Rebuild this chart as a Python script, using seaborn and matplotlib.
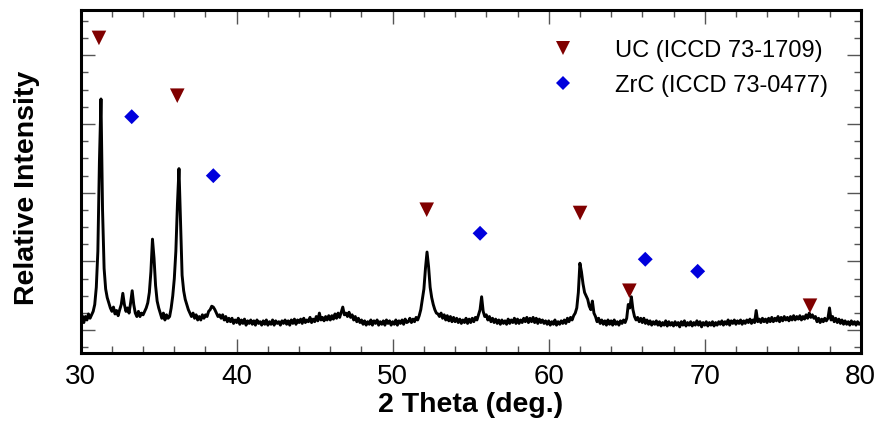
import numpy as np
import pandas as pd
import matplotlib
matplotlib.use("Agg")
import matplotlib.pyplot as plt
from matplotlib.lines import Line2D
from matplotlib.ticker import MultipleLocator
import seaborn as sns

# ---- data (intensity on a 0.1 deg grid, 30.0 ... 80.0) ----
scan_start, scan_stop = 30.0, 80.0
intensity = [
    0.55, 0.85, 0.45, 0.80, 0.60, 0.95, 0.70, 0.90, 1.10, 1.50,   # 30
    2.50, 4.60, 9.80, 13.45, 7.00, 3.60, 2.40, 1.90, 1.60, 1.30,  # 31
    1.10, 1.35, 0.95, 1.15, 0.85, 1.20, 1.50, 2.15, 1.50, 1.10,   # 32
    1.30, 1.00, 1.60, 2.30, 1.50, 1.00, 0.80, 1.10, 0.80, 1.00,   # 33
    0.90, 1.10, 1.30, 1.60, 2.20, 3.40, 5.30, 4.20, 2.60, 1.70,   # 34
    1.30, 1.00, 0.70, 1.00, 0.60, 0.90, 0.70, 0.80, 1.30, 2.00,   # 35
    3.00, 4.60, 7.30, 9.40, 6.20, 3.20, 2.30, 1.80, 1.50, 1.20,   # 36
    1.00, 0.80, 1.00, 0.70, 0.90, 0.60, 0.80, 0.60, 0.90, 0.70,   # 37
    0.90, 0.80, 1.10, 1.20, 1.40, 1.35, 1.20, 1.00, 0.80, 0.90,   # 38
    0.70, 0.90, 0.60, 0.80, 0.50, 0.70, 0.50, 0.70, 0.40, 0.60,   # 39
    0.45, 0.70, 0.35, 0.60, 0.40, 0.65, 0.30, 0.55, 0.40, 0.60,   # 40
    0.35, 0.55, 0.30, 0.60, 0.40, 0.50, 0.30, 0.55, 0.35, 0.60,   # 41
    0.30, 0.50, 0.35, 0.60, 0.30, 0.55, 0.40, 0.50, 0.30, 0.55,   # 42
    0.40, 0.60, 0.35, 0.55, 0.30, 0.60, 0.40, 0.65, 0.35, 0.60,   # 43
    0.45, 0.65, 0.40, 0.70, 0.45, 0.60, 0.50, 0.75, 0.45, 0.65,   # 44
    0.50, 0.80, 0.55, 1.00, 0.60, 0.75, 0.55, 0.80, 0.60, 0.85,   # 45
    0.60, 0.85, 0.65, 0.95, 0.70, 1.00, 0.75, 1.05, 1.35, 0.90,   # 46
    1.00, 0.80, 1.05, 0.75, 0.90, 0.60, 0.80, 0.50, 0.70, 0.45,   # 47
    0.60, 0.35, 0.55, 0.30, 0.50, 0.35, 0.60, 0.30, 0.55, 0.40,   # 48
    0.60, 0.30, 0.50, 0.35, 0.55, 0.30, 0.60, 0.40, 0.55, 0.30,   # 49
    0.50, 0.35, 0.60, 0.30, 0.55, 0.40, 0.60, 0.35, 0.65, 0.45,   # 50
    0.50, 0.70, 0.45, 0.65, 0.50, 0.75, 0.60, 0.85, 1.20, 1.80,   # 51
    2.40, 3.60, 4.55, 3.70, 2.50, 1.90, 1.50, 1.20, 1.00, 0.95,   # 52
    0.80, 1.00, 0.70, 0.90, 0.60, 0.85, 0.55, 0.80, 0.50, 0.75,   # 53
    0.50, 0.70, 0.45, 0.65, 0.40, 0.60, 0.45, 0.70, 0.40, 0.65,   # 54
    0.45, 0.70, 0.50, 0.75, 0.60, 0.90, 1.20, 1.95, 1.10, 0.80,   # 55
    0.90, 0.60, 0.80, 0.50, 0.70, 0.45, 0.65, 0.40, 0.60, 0.35,   # 56
    0.60, 0.40, 0.55, 0.35, 0.65, 0.40, 0.60, 0.45, 0.70, 0.40,   # 57
    0.65, 0.40, 0.60, 0.45, 0.70, 0.50, 0.75, 0.45, 0.70, 0.50,   # 58
    0.75, 0.45, 0.70, 0.40, 0.65, 0.45, 0.60, 0.40, 0.55, 0.35,   # 59
    0.55, 0.30, 0.50, 0.35, 0.60, 0.30, 0.50, 0.35, 0.55, 0.40,   # 60
    0.60, 0.40, 0.70, 0.50, 0.75, 0.60, 0.85, 1.00, 1.30, 2.20,   # 61
    3.90, 3.40, 2.70, 2.20, 2.00, 1.80, 1.40, 1.20, 1.70, 1.00,   # 62
    0.80, 0.50, 0.70, 0.40, 0.60, 0.35, 0.55, 0.30, 0.60, 0.35,   # 63
    0.55, 0.30, 0.60, 0.35, 0.50, 0.30, 0.55, 0.40, 0.60, 0.45,   # 64
    0.70, 1.50, 1.30, 1.95, 1.20, 0.80, 0.60, 0.75, 0.50, 0.70,   # 65
    0.45, 0.70, 0.40, 0.60, 0.35, 0.55, 0.30, 0.50, 0.35, 0.55,   # 66
    0.30, 0.50, 0.25, 0.45, 0.30, 0.55, 0.25, 0.50, 0.30, 0.45,   # 67
    0.25, 0.50, 0.30, 0.45, 0.20, 0.50, 0.30, 0.55, 0.25, 0.45,   # 68
    0.30, 0.50, 0.25, 0.45, 0.30, 0.55, 0.30, 0.50, 0.20, 0.45,   # 69
    0.30, 0.50, 0.25, 0.45, 0.30, 0.50, 0.25, 0.45, 0.30, 0.50,   # 70
    0.35, 0.55, 0.30, 0.50, 0.35, 0.60, 0.30, 0.55, 0.40, 0.60,   # 71
    0.35, 0.55, 0.40, 0.60, 0.35, 0.55, 0.40, 0.60, 0.45, 0.65,   # 72
    0.40, 0.60, 0.45, 1.15, 0.50, 0.65, 0.45, 0.70, 0.50, 0.65,   # 73
    0.45, 0.70, 0.50, 0.75, 0.50, 0.70, 0.55, 0.80, 0.50, 0.75,   # 74
    0.55, 0.80, 0.60, 0.75, 0.55, 0.80, 0.60, 0.85, 0.60, 0.80,   # 75
    0.65, 0.85, 0.60, 0.80, 0.65, 0.90, 0.70, 1.00, 0.75, 0.90,   # 76
    0.70, 0.80, 0.50, 0.70, 0.45, 0.65, 0.50, 0.70, 0.55, 0.70,   # 77
    1.30, 0.60, 0.80, 0.50, 0.70, 0.45, 0.65, 0.40, 0.60, 0.35,   # 78
    0.55, 0.35, 0.50, 0.30, 0.55, 0.35, 0.50, 0.30, 0.50, 0.35,   # 79
    0.45,                                                         # 80
]

uc_label = "UC (ICCD 73-1709)"
uc_angle = [31.17, 36.19, 52.18, 62.01, 65.17, 76.75]
uc_height = [17.0, 13.64, 7.01, 6.82, 2.30, 1.43]

zrc_label = "ZrC (ICCD 73-0477)"
zrc_angle = [33.27, 38.50, 55.60, 66.19, 69.55]
zrc_height = [12.42, 8.99, 5.64, 4.13, 3.43]

x_ticks = [30, 40, 50, 60, 70, 80]
x_label = "2 Theta (deg.)"
y_label = "Relative Intensity"

# ---- build frames ----
scan = pd.DataFrame({
    "two_theta": np.linspace(scan_start, scan_stop, len(intensity)),
    "intensity": intensity,
})
uc = pd.DataFrame({"two_theta": uc_angle, "h": uc_height})
zrc = pd.DataFrame({"two_theta": zrc_angle, "h": zrc_height})

sns.set_style("white")
plt.rcParams["font.family"] = ["Liberation Sans", "DejaVu Sans"]
plt.rcParams["text.color"] = "black"
plt.rcParams["axes.labelcolor"] = "black"
plt.rcParams["xtick.color"] = "black"
plt.rcParams["ytick.color"] = "black"

fig = plt.figure(figsize=(8.76, 4.27), dpi=100)
ax = fig.add_axes([80.7 / 876, 1 - 354 / 427, 780 / 876, (354 - 10.7) / 427])

sns.lineplot(data=scan, x="two_theta", y="intensity", ax=ax, color="black",
             lw=2.1, estimator=None, sort=False)

uc_col = "#800000"
zrc_col = "#0000dd"
sns.scatterplot(data=uc, x="two_theta", y="h", ax=ax, marker="v", s=10.5 ** 2,
                color=uc_col, edgecolor="none", linewidth=0, zorder=5)
sns.scatterplot(data=zrc, x="two_theta", y="h", ax=ax, marker="D", s=7.6 ** 2,
                color=zrc_col, edgecolor="none", linewidth=0, zorder=5)

ax.set_xlim(30, 80)
ax.set_ylim(-1.32, 18.64)
ax.set_xticks(x_ticks)
ax.xaxis.set_minor_locator(MultipleLocator(2))
ax.yaxis.set_major_locator(MultipleLocator(4))
ax.yaxis.set_minor_locator(MultipleLocator(1))
ax.set_yticklabels([])

ax.tick_params(which="both", direction="in", top=True, right=True,
               left=True, bottom=True, color="#555555", width=1.0,
               labelcolor="black")
ax.tick_params(which="major", length=10)
ax.tick_params(which="minor", length=5)
ax.tick_params(axis="x", labelsize=20, pad=7)
ax.tick_params(axis="y", labelleft=False)

for sp in ax.spines.values():
    sp.set_linewidth(2.2)
    sp.set_color("black")
    sp.set_visible(True)

ax.set_xlabel(x_label, fontsize=20.5, fontweight="bold", color="black")
ax.set_ylabel(y_label, fontsize=20.5, fontweight="bold", color="black")
ax.xaxis.set_label_coords(0.5, -0.112)
ax.yaxis.set_label_coords(-0.052, 0.485)

handles = [
    Line2D([], [], marker="v", ls="none", color=uc_col, markersize=10.5,
           markeredgewidth=0),
    Line2D([], [], marker="D", ls="none", color=zrc_col, markersize=7.6,
           markeredgewidth=0),
]
leg = ax.legend(handles, [uc_label, zrc_label], loc="upper left",
                bbox_to_anchor=((551.2 - 80.7) / 780, 1 - (40 - 10.7) / 343.3),
                frameon=False, fontsize=17, handlelength=1.0, handletextpad=1.7,
                borderpad=0, borderaxespad=0, labelspacing=0.55)
for t in leg.get_texts():
    t.set_color("black")

fig.savefig("out.png", dpi=100)
